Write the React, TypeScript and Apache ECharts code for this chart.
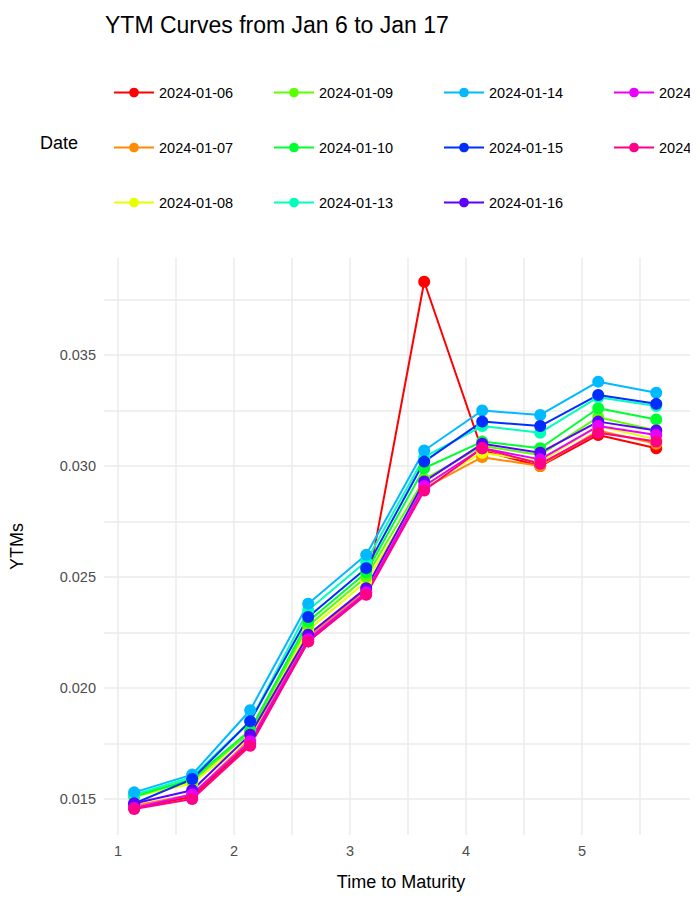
import { useEffect, useRef } from "react";
import * as echarts from "echarts";

const maturities = [1.14, 1.64, 2.14, 2.64, 3.14, 3.64, 4.14, 4.64, 5.14, 5.64];
const dates = [
  "2024-01-06", "2024-01-07", "2024-01-08", "2024-01-09", "2024-01-10", "2024-01-13",
  "2024-01-14", "2024-01-15", "2024-01-16", "2024-01-17", "2024-01-18",
];
const colors = [
  "#FF0000", "#FF8B00", "#E8FF00", "#5DFF00", "#00FF2E", "#00FFB9",
  "#00B9FF", "#002EFF", "#5D00FF", "#E800FF", "#FF008B",
];
const ytms = [
  [0.0146, 0.0151, 0.0175, 0.0221, 0.0243, 0.0383, 0.0307, 0.03, 0.0314, 0.0308],
  [0.0147, 0.0152, 0.0177, 0.0223, 0.0244, 0.029, 0.0304, 0.03, 0.0316, 0.031],
  [0.0151, 0.0157, 0.0178, 0.0226, 0.0248, 0.0291, 0.0306, 0.0302, 0.0318, 0.0312],
  [0.0152, 0.0158, 0.018, 0.0228, 0.025, 0.0294, 0.0309, 0.0305, 0.0322, 0.0316],
  [0.0151, 0.0159, 0.0181, 0.023, 0.0252, 0.0299, 0.0311, 0.0308, 0.0326, 0.0321],
  [0.0152, 0.016, 0.0185, 0.0235, 0.0257, 0.0304, 0.0318, 0.0315, 0.0331, 0.0327],
  [0.0153, 0.0161, 0.019, 0.0238, 0.026, 0.0307, 0.0325, 0.0323, 0.0338, 0.0333],
  [0.0148, 0.0159, 0.0185, 0.0232, 0.0254, 0.0302, 0.032, 0.0318, 0.0332, 0.0328],
  [0.0148, 0.0154, 0.0179, 0.0224, 0.0245, 0.0293, 0.031, 0.0306, 0.032, 0.0316],
  [0.0146, 0.0152, 0.0176, 0.0222, 0.0243, 0.0291, 0.0308, 0.0303, 0.0318, 0.0314],
  [0.01455, 0.015, 0.0174, 0.0221, 0.0242, 0.0289, 0.0308, 0.0301, 0.0315, 0.0311],
];
const xGrid = [1, 1.5, 2, 2.5, 3, 3.5, 4, 4.5, 5, 5.5];
const xLabels = [1, 2, 3, 4, 5];
const yGrid = [0.015, 0.0175, 0.02, 0.0225, 0.025, 0.0275, 0.03, 0.0325, 0.035, 0.0375];
const yLabels = [0.015, 0.02, 0.025, 0.03, 0.035];
const legendColumns = [[0, 1, 2], [3, 4, 5], [6, 7, 8], [9, 10]];
const legendLefts = [108, 268, 438, 608];

const font = "Liberation Sans, Arial, sans-serif";

export default function App() {
  const chartRef = useRef<HTMLDivElement>(null);

  useEffect(() => {
    if (!chartRef.current) return;
    const chart = echarts.init(chartRef.current, null, { renderer: "svg" });

    const option: echarts.EChartsOption = {
      animation: false,
      textStyle: { fontFamily: font },
      title: {
        text: "YTM Curves from Jan 6 to Jan 17",
        left: 100,
        top: 8,
        textStyle: { fontSize: 23, fontWeight: "normal", color: "#000", fontFamily: font },
      },
      graphic: [
        { type: "text", left: 40, top: 134, style: { text: "Date", fontSize: 18, fill: "#000", fontFamily: font } },
      ],
      legend: legendColumns.map((col, i) => ({
        orient: "vertical",
        left: legendLefts[i],
        top: 80,
        itemGap: 40,
        itemWidth: 40,
        itemHeight: 12,
        data: col.map((k) => dates[k]),
        textStyle: { fontSize: 14.5, color: "#000", fontFamily: font },
      })),
      grid: { left: 104, right: 0, top: 258, bottom: 74 },
      xAxis: {
        type: "value",
        name: "Time to Maturity",
        nameLocation: "middle",
        nameGap: 38,
        nameTextStyle: { fontSize: 18, color: "#000" },
        min: 0.88,
        max: 6.0,
        axisLine: { show: false },
        axisTick: { show: false, customValues: xGrid },
        axisLabel: { fontSize: 14.5, color: "#4d4d4d", customValues: xLabels },
        splitLine: { lineStyle: { color: "#ebebeb", width: 1.5 } },
      },
      yAxis: {
        type: "value",
        name: "YTMs",
        nameLocation: "middle",
        nameGap: 78,
        nameTextStyle: { fontSize: 18, color: "#000" },
        min: 0.01338,
        max: 0.03937,
        axisLine: { show: false },
        axisTick: { show: false, customValues: yGrid },
        axisLabel: {
          fontSize: 14.5,
          color: "#4d4d4d",
          customValues: yLabels,
          formatter: (v: number) => v.toFixed(3),
        },
        splitLine: { lineStyle: { color: "#ebebeb", width: 1.5 } },
      },
      series: dates.map((d, i) => ({
        name: d,
        type: "line",
        data: maturities.map((m, j) => [m, ytms[i][j]]),
        symbol: "circle",
        symbolSize: 12,
        color: colors[i],
        lineStyle: { width: 2 },
      })),
    };

    chart.setOption(option);
    return () => chart.dispose();
  }, []);

  return <div ref={chartRef} style={{ width: 698, height: 909, margin: -8 }} />;
}
